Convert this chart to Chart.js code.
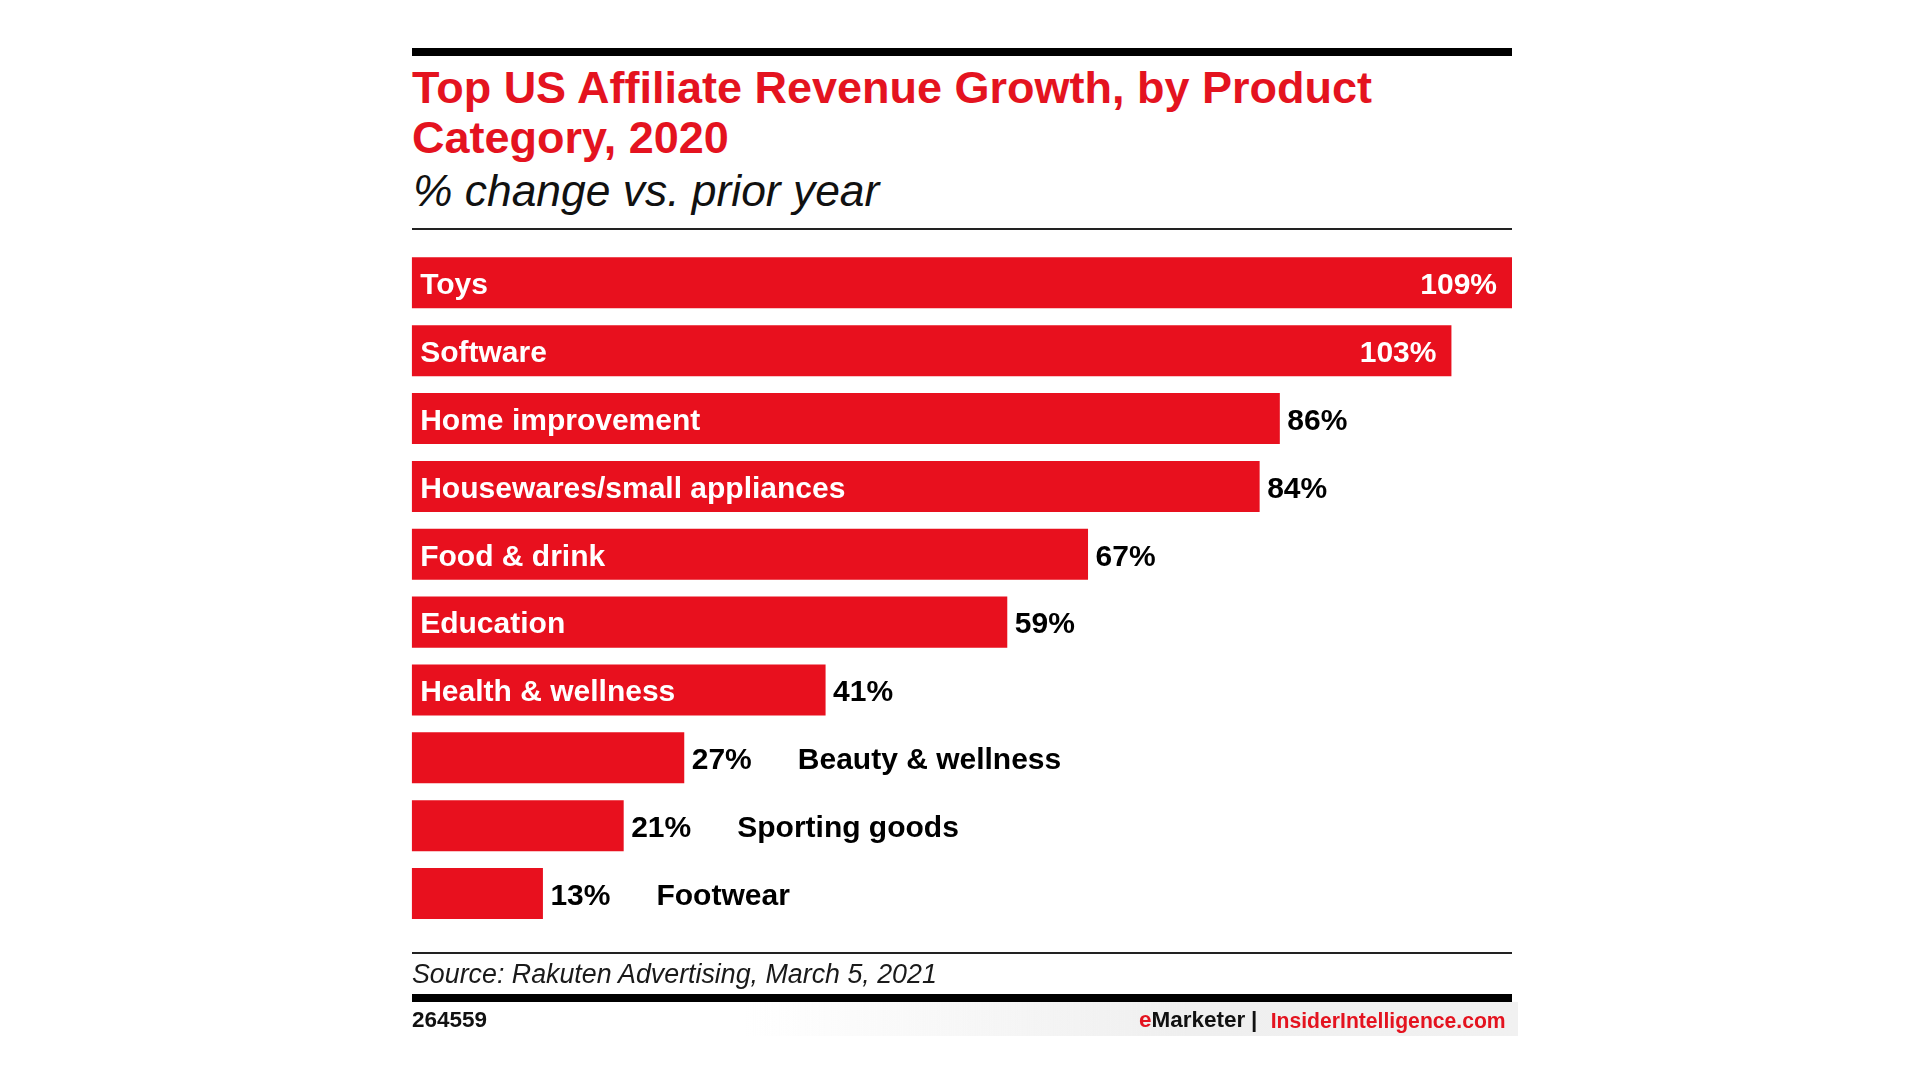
<!DOCTYPE html>
<html>
<head>
<meta charset="utf-8">
<script src="https://cdn.jsdelivr.net/npm/chart.js@4.4.1/dist/chart.umd.min.js"></script>
<style>
  html, body { margin: 0; padding: 0; background: #ffffff; }
  body { width: 1920px; height: 1080px; position: relative; overflow: hidden; font-family: "Liberation Sans", Arial, sans-serif; }
  .abs { position: absolute; white-space: nowrap; }
  #chartWrap { position: absolute; left: 0; top: 0; width: 1920px; height: 1080px; }
</style>
</head>
<body>
<div class="abs" style="left:411.7px; top:48px; width:1100.5px; height:7.5px; background:#000;"></div>
<div class="abs" style="left:412px; top:62.7px; font-weight:bold; font-size:45px; line-height:50px; color:#e4131f;">Top US Affiliate Revenue Growth, by Product<br>Category, 2020</div>
<div class="abs" style="left:413px; top:169.1px; font-style:italic; font-size:44.4px; line-height:44.4px; color:#111;">% change vs. prior year</div>
<div class="abs" style="left:411.7px; top:228px; width:1100.5px; height:2px; background:#222;"></div>

<div id="chartWrap"><canvas id="c" width="1920" height="1080"></canvas></div>

<div class="abs" style="left:411.7px; top:951.5px; width:1100.5px; height:2px; background:#222;"></div>
<div class="abs" style="left:412px; top:960.6px; font-style:italic; font-size:26.8px; line-height:26.8px; color:#1a1a1a;">Source: Rakuten Advertising, March 5, 2021</div>
<div class="abs" style="left:411.7px; top:1002px; width:1106px; height:34px; background:linear-gradient(to right, rgba(238,238,238,0) 30%, #efefef 70%, #f1f1f1 100%);"></div>
<div class="abs" style="left:411.7px; top:994px; width:1100.5px; height:8px; background:#000;"></div>
<div class="abs" style="left:412px; top:1009px; font-weight:bold; font-size:22.5px; line-height:22.5px; color:#111;">264559</div>
<div class="abs" style="left:1139px; top:1009.3px; font-weight:bold; font-size:22.5px; line-height:22.5px; color:#111;"><span style="color:#e4131f;">e</span>Marketer</div>
<div class="abs" style="left:1251px; top:1009.3px; font-weight:bold; font-size:22.5px; line-height:22.5px; color:#111;">|</div>
<div class="abs" style="left:1270.7px; top:1010.4px; font-weight:bold; font-size:21.15px; line-height:21.15px; color:#e4131f;">InsiderIntelligence.com</div>

<script>
// ---- data ----
const categories = ['Toys', 'Software', 'Home improvement', 'Housewares/small appliances', 'Food & drink', 'Education', 'Health & wellness', 'Beauty & wellness', 'Sporting goods', 'Footwear'];
const values = [109, 103, 86, 84, 67, 59, 41, 27, 21, 13];
const valueLabels = values.map(v => v + '%');
const xMin = 0;
const xMax = 109;

// ---- styling ----
const BAR_RED = '#e8101e';
const LABEL_FONT = 'bold 30px "Liberation Sans", Arial, sans-serif';

const barLabels = {
  id: 'barLabels',
  afterDatasetsDraw(chart) {
    const ctx = chart.ctx;
    const area = chart.chartArea;
    const meta = chart.getDatasetMeta(0);
    ctx.save();
    ctx.font = LABEL_FONT;
    ctx.textBaseline = 'alphabetic';
    meta.data.forEach((bar, i) => {
      const x0 = Math.min(bar.base, bar.x);
      const x1 = Math.max(bar.base, bar.x);
      const baseline = bar.y + 11.3;
      const cat = categories[i];
      const val = valueLabels[i];
      const cw = ctx.measureText(cat).width;
      const vw = ctx.measureText(val).width;
      const catInside = cw + 17 <= (x1 - x0);
      const valInside = x1 + 7.5 + vw > area.right;
      if (catInside) {
        ctx.fillStyle = '#ffffff';
        ctx.textAlign = 'left';
        ctx.fillText(cat, x0 + 8.5, baseline);
      }
      if (valInside) {
        ctx.fillStyle = '#ffffff';
        ctx.textAlign = 'right';
        ctx.fillText(val, x1 - 15, baseline);
      } else {
        ctx.fillStyle = '#000000';
        ctx.textAlign = 'left';
        ctx.fillText(val, x1 + 7.5, baseline);
      }
      if (!catInside) {
        ctx.fillStyle = '#000000';
        ctx.textAlign = 'left';
        ctx.fillText(cat, x1 + 7.5 + vw + 46, baseline);
      }
    });
    ctx.restore();
  }
};

new Chart(document.getElementById('c'), {
  type: 'bar',
  data: {
    labels: categories,
    datasets: [{
      data: values,
      backgroundColor: BAR_RED,
      borderWidth: 0,
      categoryPercentage: 1,
      barPercentage: 0.752
    }]
  },
  options: {
    indexAxis: 'y',
    responsive: false,
    animation: false,
    devicePixelRatio: 1,
    layout: { padding: { left: 411.7, right: 408, top: 248.9, bottom: 152.5 } },
    scales: {
      x: { display: false, min: xMin, max: xMax },
      y: { display: false }
    },
    plugins: {
      legend: { display: false },
      tooltip: { enabled: false },
      title: { display: false }
    }
  },
  plugins: [barLabels]
});
</script>
</body>
</html>
